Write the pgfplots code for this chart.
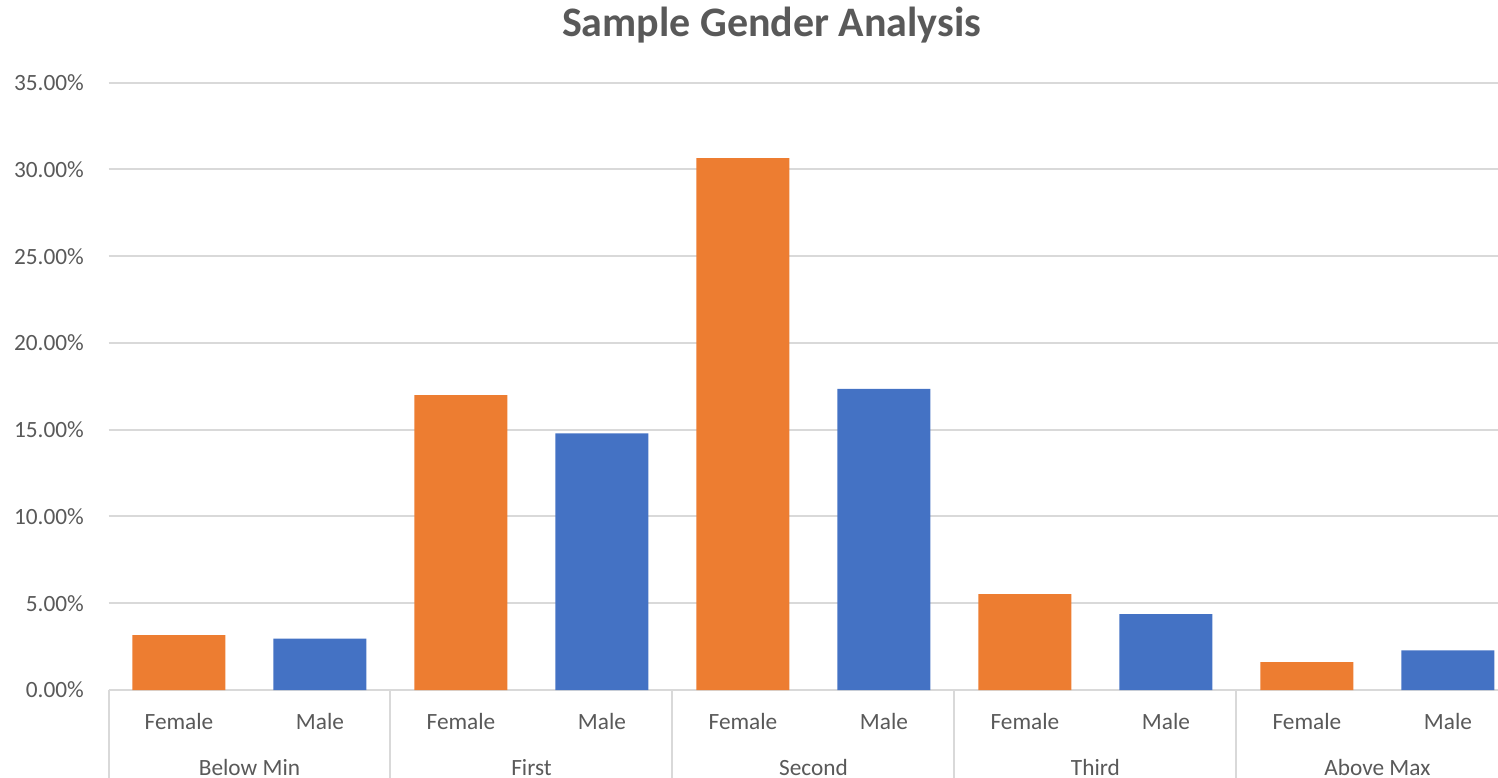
\documentclass[border=0pt]{standalone}
\usepackage{pgfplots}
\pgfplotsset{compat=1.18}
\usepackage{fontspec}
\setmainfont{Carlito}
\definecolor{forange}{HTML}{ED7D31}
\definecolor{mblue}{HTML}{4472C4}
\definecolor{gridc}{HTML}{D9D9D9}
\definecolor{txt}{HTML}{595959}
\newcommand{\lbl}{\fontsize{23.3pt}{28pt}\selectfont}
\begin{document}
\begin{tikzpicture}
\useasboundingbox (0,0) rectangle (1498pt,-778pt);
\begin{axis}[
  at={(108.5pt,-690pt)}, anchor=south west,
  scale only axis, width=1389.5pt, height=607.3pt,
  xmin=-0.5, xmax=9.355, ymin=0, ymax=35,
  axis line style={draw=none},
  major tick length=0pt,
  tick style={draw=none},
  ymajorgrids, grid style={gridc, line width=2pt},
  ytick={0,5,10,15,20,25,30,35},
  yticklabels={0.00\%,5.00\%,10.00\%,15.00\%,20.00\%,25.00\%,30.00\%,35.00\%},
  xtick={0,1,2,3,4,5,6,7,8,9},
  xticklabels={Female,Male,Female,Male,Female,Male,Female,Male,Female,Male},
  yticklabel style={anchor=east, inner sep=0pt, xshift=-24.5pt, font=\lbl, text=txt},
  xticklabel style={anchor=base, inner sep=0pt, yshift=-39pt, font=\lbl, text=txt},
  ybar, bar width=93pt, bar shift=0pt,
  clip=false,
]
\addplot[fill=forange, draw=none] coordinates {(0,3.17) (2,17.00) (4,30.66) (6,5.53) (8,1.61)};
\addplot[fill=mblue, draw=none] coordinates {(1,2.96) (3,14.79) (5,17.35) (7,4.38) (9,2.29)};
\pgfplotsinvokeforeach{-0.5,1.5,3.5,5.5,7.5}{
  \draw[gridc, line width=2pt] (axis cs:#1,0) -- ([yshift=-95pt]axis cs:#1,0);
}
\node[anchor=base, inner sep=0pt, font=\lbl, text=txt] at ([yshift=-85pt]axis cs:0.5,0) {Below Min};
\node[anchor=base, inner sep=0pt, font=\lbl, text=txt] at ([yshift=-85pt]axis cs:2.5,0) {First};
\node[anchor=base, inner sep=0pt, font=\lbl, text=txt] at ([yshift=-85pt]axis cs:4.5,0) {Second};
\node[anchor=base, inner sep=0pt, font=\lbl, text=txt] at ([yshift=-85pt]axis cs:6.5,0) {Third};
\node[anchor=base, inner sep=0pt, font=\lbl, text=txt] at ([yshift=-85pt]axis cs:8.5,0) {Above Max};
\end{axis}
\node[anchor=base, inner sep=0pt, text=txt, font=\fontsize{42pt}{50pt}\selectfont\bfseries] at (771.7pt,-37pt) {Sample Gender Analysis};
\end{tikzpicture}
\end{document}
